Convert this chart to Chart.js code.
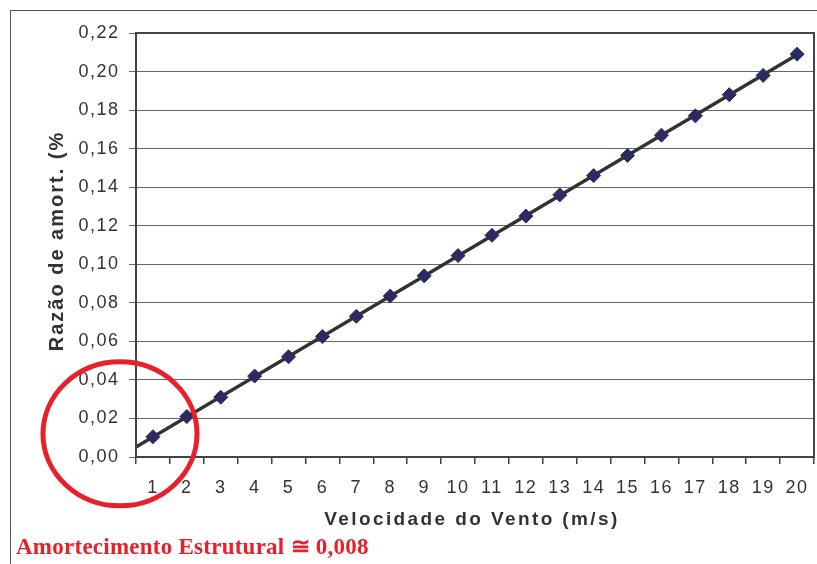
<!DOCTYPE html>
<html>
<head>
<meta charset="utf-8">
<script src="https://cdn.jsdelivr.net/npm/chart.js@4.4.0/dist/chart.umd.min.js"></script>
<style>
html,body{margin:0;padding:0;background:#fff;}
#wrap{position:relative;width:817px;height:564px;overflow:hidden;}
#frame{position:absolute;left:10px;top:10px;width:900px;height:700px;border-top:1.5px solid #555;border-left:1.5px solid #555;}
#note{position:absolute;left:16px;top:533px;font-family:"Liberation Serif","Times New Roman",serif;font-weight:bold;font-size:23px;letter-spacing:0.25px;color:#e8202a;white-space:nowrap;}
canvas{position:absolute;left:0;top:0;}
</style>
</head>
<body>
<div id="wrap">
<div id="frame"></div>
<canvas id="c" width="817" height="564"></canvas>
<div id="note">Amortecimento Estrutural ≅ 0,008</div>
</div>
<script>
const categories = ["1","2","3","4","5","6","7","8","9","10","11","12","13","14","15","16","17","18","19","20"];
const dampingRatio = [0.0105,0.021,0.031,0.042,0.052,0.0625,0.073,0.0835,0.094,0.1045,0.115,0.125,0.136,0.146,0.1565,0.167,0.177,0.188,0.198,0.209];
const yTitle = "Razão de amort. (%";
const xTitle = "Velocidade do Vento (m/s)";

// least-squares trend line through the series (x = category number)
function regression(vals){
  const n = vals.length; let sx=0, sy=0, sxx=0, sxy=0;
  vals.forEach((v,i)=>{const x=i+1; sx+=x; sy+=v; sxx+=x*x; sxy+=x*v;});
  const b = (n*sxy - sx*sy)/(n*sxx - sx*sx);
  const a = (sy - b*sx)/n;
  return {a,b};
}
const trend = regression(dampingRatio);

const overlay = {
  id:'overlay',
  beforeDraw(chart){
    chart.ctx.letterSpacing = '1.5px';
  },
  beforeDatasetsDraw(chart){
    const {ctx, chartArea:ca, scales:{x,y}} = chart;
    const i0 = -0.5, i1 = dampingRatio.length-1;
    ctx.save();
    ctx.beginPath();
    ctx.rect(ca.left, ca.top, ca.right-ca.left, ca.bottom-ca.top);
    ctx.clip();
    ctx.strokeStyle = '#333';
    ctx.lineWidth = 3.5;
    ctx.beginPath();
    ctx.moveTo(x.getPixelForValue(i0), y.getPixelForValue(trend.a + trend.b*(i0+1)));
    ctx.lineTo(x.getPixelForValue(i1), y.getPixelForValue(trend.a + trend.b*(i1+1)));
    ctx.stroke();
    ctx.restore();
  },
  afterDraw(chart){
    const {ctx, chartArea:ca, scales:{x,y}} = chart;
    ctx.save();
    ctx.strokeStyle = '#444';
    ctx.lineWidth = 2;
    ctx.strokeRect(ca.left, ca.top, ca.right-ca.left, ca.bottom-ca.top);
    ctx.fillStyle = '#333';
    ctx.textBaseline = 'alphabetic';
    ctx.textAlign = 'center';
    ctx.font = 'bold 19px "Liberation Sans", Arial, sans-serif';
    ctx.letterSpacing = '2.4px';
    ctx.fillText(xTitle, 472, 525);
    ctx.save();
    ctx.font = 'bold 20px "Liberation Sans", Arial, sans-serif';
    ctx.letterSpacing = '2px';
    ctx.translate(63, 241);
    ctx.rotate(-Math.PI/2);
    ctx.fillText(yTitle, 0, 0);
    ctx.restore();
    ctx.strokeStyle = '#e8202a';
    ctx.lineWidth = 5;
    ctx.beginPath();
    ctx.ellipse(x.getPixelForValue(-0.5) - 16, y.getPixelForValue(0.012), 77, 72, 0, 0, Math.PI*2);
    ctx.stroke();
    ctx.restore();
  }
};

new Chart(document.getElementById('c'), {
  type:'line',
  data:{
    labels: categories,
    datasets:[{
      data: dampingRatio,
      showLine:false,
      pointStyle:'rectRot',
      pointRadius:7,
      pointBackgroundColor:'#2b2b62',
      pointBorderColor:'#2b2b62',
      pointBorderWidth:1
    }]
  },
  options:{
    responsive:false,
    animation:false,
    devicePixelRatio:1,
    layout:{autoPadding:false, padding:{top:33,right:3,left:0,bottom:0}},
    plugins:{legend:{display:false},tooltip:{enabled:false}},
    scales:{
      x:{
        type:'category',
        offset:true,
        afterFit(s){ s.height = 107; s.paddingLeft = 0; s.paddingRight = 0; },
        grid:{offset:true, drawOnChartArea:false, drawTicks:true, tickLength:7, color:'#444', lineWidth:1.5},
        border:{display:false},
        ticks:{color:'#333', font:{family:'"Liberation Sans", Arial, sans-serif', size:18}, padding:13, maxRotation:0, autoSkip:false}
      },
      y:{
        min:0, max:0.22,
        afterFit(s){ s.width = 136; s.paddingTop = 0; s.paddingBottom = 0; },
        afterBuildTicks(s){ const t=[]; for(let v=0; v<=22; v+=2) t.push({value:v/100}); s.ticks=t; },
        grid:{color:'#666', lineWidth:1, tickLength:7, drawTicks:true},
        border:{display:false},
        ticks:{color:'#333', padding:9.5, font:{family:'"Liberation Sans", Arial, sans-serif', size:18},
          callback:(v)=> v.toFixed(2).replace('.',',')}
      }
    }
  },
  plugins:[overlay]
});
</script>
</body>
</html>
